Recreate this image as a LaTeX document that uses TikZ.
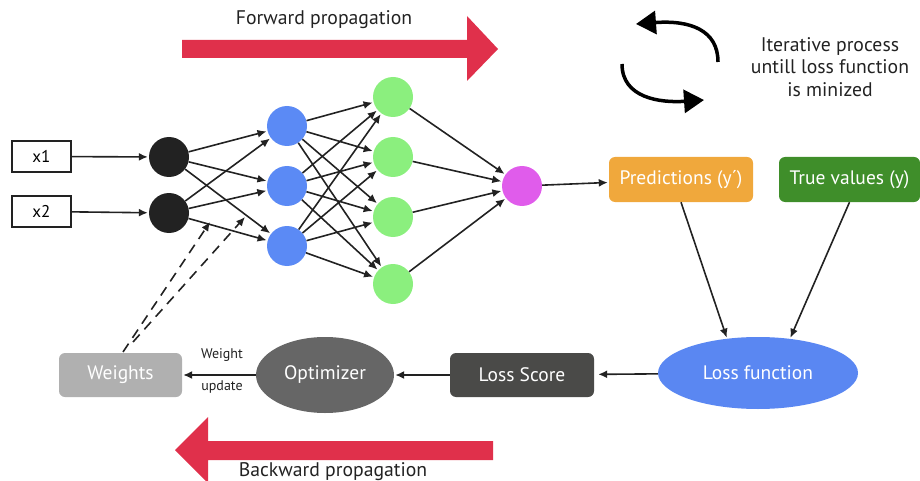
\documentclass[tikz,border=0pt]{standalone}
\usepackage{fontspec}
\setmainfont{PT Sans}
\usetikzlibrary{arrows.meta,shapes.geometric}
\definecolor{cred}{HTML}{E0304B}
\definecolor{cblk}{HTML}{222222}
\definecolor{cblue}{HTML}{5B8AF5}
\definecolor{cgreen}{HTML}{8BEF7E}
\definecolor{cmag}{HTML}{E05CEB}
\definecolor{corange}{HTML}{F0A83C}
\definecolor{cdgreen}{HTML}{3F8E2A}
\definecolor{closs}{HTML}{5A87F2}
\definecolor{cscore}{HTML}{4A4A48}
\definecolor{copt}{HTML}{666666}
\definecolor{cw}{HTML}{B0B0B0}
\begin{document}
\begin{tikzpicture}[x=1pt,y=-1pt,
  neuron/.style={circle,minimum size=40pt,inner sep=0pt},
  inbox/.style={draw=cblk,line width=1.5pt,minimum width=59pt,minimum height=31pt,inner sep=0pt,font=\fontsize{17}{20}\selectfont},
  rbox/.style={rounded corners=6pt,inner sep=0pt,text=white,font=\fontsize{19.5}{22}\selectfont},
  ell/.style={ellipse,inner sep=0pt,text=white,font=\fontsize{19.5}{22}\selectfont},
  conn/.style={draw=cblk,line width=1.6pt,-{Latex[length=9pt,width=8pt]},shorten >=1pt},
  lbl/.style={font=\fontsize{19.7}{22.5}\selectfont,text=cblk},
  small/.style={font=\fontsize{14}{16}\selectfont,text=cblk},
  cyc/.style={draw=black,line width=3.5pt,-{Triangle[length=20pt,width=23pt]}}
]
\useasboundingbox (0,0) rectangle (920,481);
% big arrows
\fill[cred] (182,40) -- (467,40) -- (467,16) -- (498,49) -- (467,81) -- (467,58) -- (182,58) -- cycle;
\fill[cred] (493,441) -- (208,441) -- (208,417) -- (175,450) -- (208,483) -- (208,460) -- (493,460) -- cycle;
\node[lbl] (fwd) at (324,20) {Forward propagation};
\node[lbl] (bwd) at (333,472) {Backward propagation};
% cycle arrows
\coordinate (c1s) at (718,62);
\coordinate (c1e) at (636,24);
\coordinate (c2s) at (622,64);
\coordinate (c2e) at (704,100);
\draw[cyc] (c1s) .. controls (718,30) and (690,20) .. (c1e);
\draw[cyc] (c2s) .. controls (622,98) and (660,103) .. (c2e);
\node[lbl,align=center] (iter) at (830,67) {Iterative process\\untill loss function\\is minized};
% inputs
\node[inbox] (x1) at (41.5,156.5) {x1};
\node[inbox] (x2) at (41.5,211.5) {x2};
\node[neuron,fill=cblk] (h1) at (169,157) {};
\node[neuron,fill=cblk] (h2) at (169,213) {};
\node[neuron,fill=cblue] (b1) at (287,126) {};
\node[neuron,fill=cblue] (b2) at (287,186) {};
\node[neuron,fill=cblue] (b3) at (287,246) {};
\node[neuron,fill=cgreen] (g1) at (393,97) {};
\node[neuron,fill=cgreen] (g2) at (393,157) {};
\node[neuron,fill=cgreen] (g3) at (393,217) {};
\node[neuron,fill=cgreen] (g4) at (393,284) {};
\node[neuron,fill=cmag] (m) at (522,186) {};
\draw[conn] (x1) -- (h1);
\draw[conn] (x2) -- (h2);
\foreach \a in {h1,h2}{\foreach \b in {b1,b2,b3}{\draw[conn] (\a) -- (\b);}}
\foreach \a in {b1,b2,b3}{\foreach \b in {g1,g2,g3,g4}{\draw[conn] (\a) -- (\b);}}
\foreach \a in {g1,g2,g3,g4}{\draw[conn] (\a) -- (m);}
% right part
\node[rbox,fill=corange,minimum width=144pt,minimum height=45pt] (pred) at (681,179.5) {Predictions (y´)};
\node[rbox,fill=cdgreen,minimum width=141pt,minimum height=45pt] (true) at (849.5,179.5) {True values (y)};
\node[ell,fill=closs,minimum width=200pt,minimum height=72pt] (lossf) at (758,373) {Loss function};
\node[rbox,fill=cscore,minimum width=144pt,minimum height=44pt] (score) at (522,375) {Loss Score};
\node[ell,fill=copt,minimum width=138pt,minimum height=76pt] (opt) at (325,375) {Optimizer};
\node[rbox,fill=cw,minimum width=123pt,minimum height=44pt] (wts) at (120.5,375) {Weights};
\draw[conn] (m) -- (pred);
\draw[conn] (pred.south) -- (lossf.132);
\draw[conn] (true.south) -- (lossf.47);
\draw[conn,shorten >=4pt] (lossf) -- (score);
\draw[conn] (score) -- (opt);
\draw[conn] (opt) -- (wts);
\node[small] (wu1) at (222,355) {Weight};
\node[small] (wu2) at (222,387) {update};
% dashed
\coordinate (d1s) at (123,352);
\coordinate (d1e) at (210,222);
\coordinate (d2s) at (133,342);
\coordinate (d2e) at (245,217);
\draw[conn,dash pattern=on 10pt off 7pt,shorten >=0pt] (d1s) -- (d1e);
\draw[conn,dash pattern=on 10pt off 7pt,shorten >=0pt] (d2s) -- (d2e);
\end{tikzpicture}
\end{document}
